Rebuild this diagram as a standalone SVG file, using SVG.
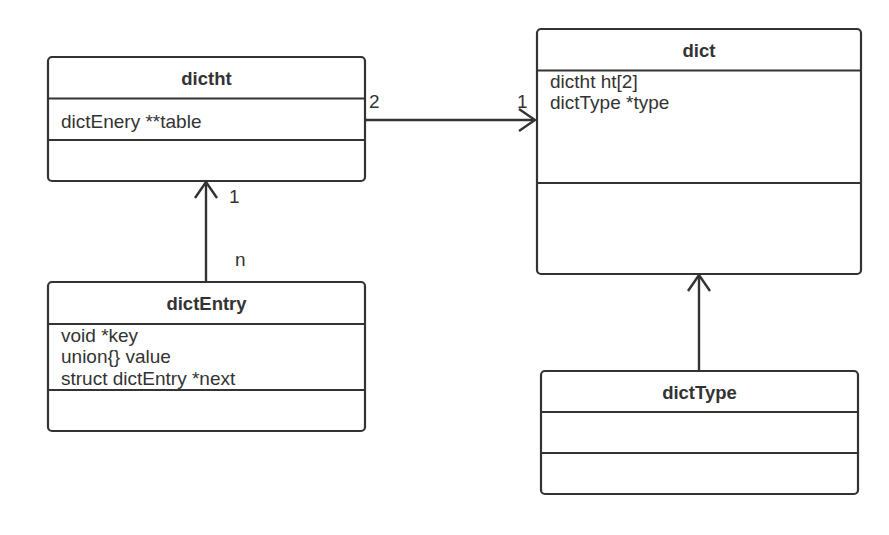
<svg xmlns="http://www.w3.org/2000/svg" width="889" height="535" viewBox="0 0 889 535">
<defs>
<style>
.box{fill:#fff;stroke:#333;stroke-width:2.2}
.div{stroke:#333;stroke-width:2.2}
.t{font-family:"Liberation Sans",Arial,sans-serif;font-size:19px;fill:#333}
.b{font-weight:bold;text-anchor:middle;font-size:18.5px}
.c{stroke:#333;stroke-width:2.4;fill:none}
</style>
<marker id="open" viewBox="0 0 20 24" refX="18" refY="12" markerWidth="20" markerHeight="24" markerUnits="userSpaceOnUse" orient="auto">
<path d="M2,1 L18,12 L2,23" fill="none" stroke="#333" stroke-width="2.4"/>
</marker>
</defs>
<rect width="889" height="535" fill="#fff"/>
<g id="connectors">
<line class="c" x1="366" y1="120" x2="535" y2="120" marker-end="url(#open)"/>
<line class="c" x1="206" y1="282" x2="206" y2="182" marker-end="url(#open)"/>
<line class="c" x1="699" y1="371" x2="699" y2="275" marker-end="url(#open)"/>
<text class="t" x="369" y="108">2</text>
<text class="t" x="517" y="108">1</text>
<text class="t" x="229" y="203">1</text>
<text class="t" x="235" y="266">n</text>
</g>
<g id="dictht">
<rect class="box" x="48" y="57" width="317" height="124" rx="4"/>
<line class="div" x1="48" y1="98.5" x2="365" y2="98.5"/>
<line class="div" x1="48" y1="140" x2="365" y2="140"/>
<text class="t b" x="206.5" y="85">dictht</text>
<text class="t" x="61" y="128">dictEnery **table</text>
</g>
<g id="dictEntry">
<rect class="box" x="48" y="282" width="317" height="149" rx="4"/>
<line class="div" x1="48" y1="324" x2="365" y2="324"/>
<line class="div" x1="48" y1="390" x2="365" y2="390"/>
<text class="t b" x="206.5" y="310">dictEntry</text>
<text class="t" x="61" y="342">void *key</text>
<text class="t" x="61" y="363.3">union{} value</text>
<text class="t" x="61" y="384.6">struct dictEntry *next</text>
</g>
<g id="dict">
<rect class="box" x="537" y="29" width="324" height="245" rx="4"/>
<line class="div" x1="537" y1="70.5" x2="861" y2="70.5"/>
<line class="div" x1="537" y1="183" x2="861" y2="183"/>
<text class="t b" x="699" y="57">dict</text>
<text class="t" x="550" y="88">dictht ht[2]</text>
<text class="t" x="550" y="109.3">dictType *type</text>
</g>
<g id="dictType">
<rect class="box" x="541" y="371" width="317" height="123" rx="4"/>
<line class="div" x1="541" y1="412" x2="858" y2="412"/>
<line class="div" x1="541" y1="453" x2="858" y2="453"/>
<text class="t b" x="699.5" y="399">dictType</text>
</g>
</svg>
